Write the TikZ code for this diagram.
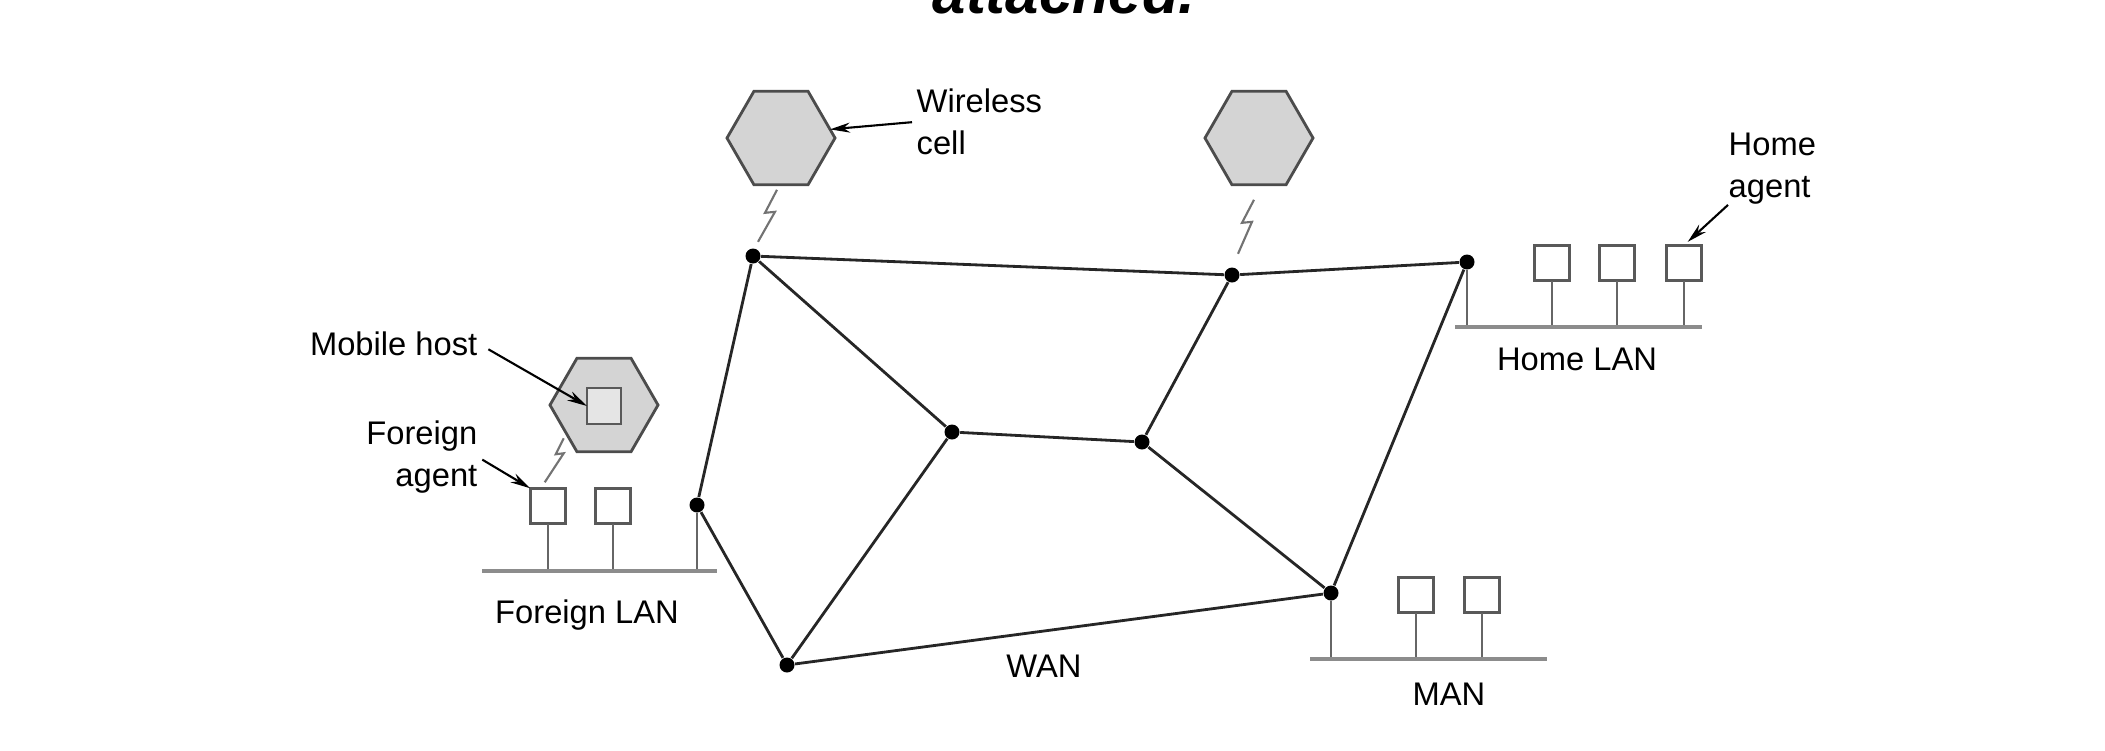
\documentclass[tikz,border=0pt]{standalone}
\usepackage{fontspec}
\setmainfont{Liberation Sans}
\usetikzlibrary{shapes.geometric,arrows.meta}

\definecolor{cellgray}{HTML}{D4D4D4}

\begin{document}
\begin{tikzpicture}[x=0.01cm,y=-0.01cm,
    font=\fontsize{9.3}{12}\selectfont,
    router/.style={circle,fill=black,inner sep=0pt,minimum size=0.15cm},
    cell/.style={regular polygon,regular polygon sides=6,draw=black!70,fill=cellgray,
        line width=0.8pt,inner sep=0pt,outer sep=0pt,minimum size=1.08cm},
    host/.style={rectangle,draw=black!65,fill=white,line width=0.8pt,
        inner sep=0pt,outer sep=0pt,minimum size=0.355cm},
    link/.style={black!85,line width=0.8pt},
    bus/.style={black!45,line width=1.1pt},
    stem/.style={black!60,line width=0.8pt},
    radio/.style={black!55,line width=0.6pt},
    pointer/.style={-{Stealth[length=0.2cm,width=0.1cm]},line width=0.6pt},
    lbl/.style={inner sep=0pt}]
    \useasboundingbox (0,0) rectangle (2105,750);
    \clip (0,0) rectangle (2105,750);

    \node[lbl,anchor=base,font=\fontsize{17}{20}\selectfont\bfseries\itshape] (title) at (1064,13) {attached.};

    \coordinate (flanL) at (482,571);
    \coordinate (flanR) at (717,571);
    \coordinate (hlanL) at (1455,327);
    \coordinate (hlanR) at (1702,327);
    \coordinate (manL) at (1310,659);
    \coordinate (manR) at (1547,659);

    \node[router] (A) at (753,256) {};
    \node[router] (B) at (1232,275) {};
    \node[router] (C) at (1467,262) {};
    \node[router] (D) at (952,432) {};
    \node[router] (E) at (1142,442) {};
    \node[router] (F) at (697,505) {};
    \node[router] (G) at (787,665) {};
    \node[router] (H) at (1331,593) {};

    \draw[link] (A) -- (B) -- (C) -- (H) -- (G) -- (F) -- (A) -- (D) -- (E) -- (B);
    \draw[link] (D) -- (G);
    \draw[link] (E) -- (H);

    \node[host] (fa) at (548,506) {};
    \node[host] (f2) at (613,506) {};
    \node[host] (h1) at (1552,263) {};
    \node[host] (h2) at (1617,263) {};
    \node[host] (ha) at (1684,263) {};
    \node[host] (m1) at (1416,595) {};
    \node[host] (m2) at (1482,595) {};

    \draw[stem] (fa.south) -- (fa.south |- flanL);
    \draw[stem] (f2.south) -- (f2.south |- flanL);
    \draw[stem] (F) -- (F |- flanL);
    \draw[stem] (h1.south) -- (h1.south |- hlanL);
    \draw[stem] (h2.south) -- (h2.south |- hlanL);
    \draw[stem] (ha.south) -- (ha.south |- hlanL);
    \draw[stem] (C) -- (C |- hlanL);
    \draw[stem] (m1.south) -- (m1.south |- manL);
    \draw[stem] (m2.south) -- (m2.south |- manL);
    \draw[stem] (H) -- (H |- manL);

    \draw[bus] (flanL) -- (flanR);
    \draw[bus] (hlanL) -- (hlanR);
    \draw[bus] (manL) -- (manR);

    \node[cell] (c1) at (781,138) {};
    \node[cell] (c2) at (1259,138) {};
    \node[cell] (cm) at (604,405) {};
    \node[host,fill=cellgray!60,minimum width=0.34cm,minimum height=0.36cm] (mh) at (604,406) {};

    \draw[radio] (c1.south) ++(-4,5) -- ++(-12,23) -- ++(10,-1) -- ++(-17,30);
    \draw[radio] (c2.south) ++(-5,15) -- ++(-12,23) -- ++(10,-1) -- ++(-14,32);
    \draw[radio] (cm.225) ++(-6,-1) -- ++(-8,16) -- ++(8,-1) -- ++(-19,29);

    \node[lbl,anchor=base east] (lblMobile) at (478,355) {Mobile host};
    \node[lbl,align=right,anchor=north east] (lblForeign) at (478,420) {Foreign\\agent};
    \node[lbl,align=left,anchor=north west] (lblWireless) at (916,88) {Wireless\\cell};
    \node[lbl,align=left,anchor=north west] (lblHome) at (1728,132) {Home\\agent};
    \node[lbl,anchor=base] (lblFlan) at (587,623) {Foreign LAN};
    \node[lbl,anchor=base] (lblHlan) at (1577,370) {Home LAN};
    \node[lbl,anchor=base] (lblMan) at (1449,705) {MAN};
    \node[lbl,anchor=base] (lblWan) at (1044,677) {WAN};

    \draw[pointer,shorten <=0.12cm] (lblMobile.east) -- (mh.west);
    \draw[pointer,shorten <=0.05cm] (lblForeign.east) -- (fa.north west);
    \draw[pointer,shorten <=0.04cm] (lblWireless.west) -- (c1.10);
    \draw[pointer,shorten >=0.05cm] (lblHome.south west) -- (ha.north);
\end{tikzpicture}
\end{document}
